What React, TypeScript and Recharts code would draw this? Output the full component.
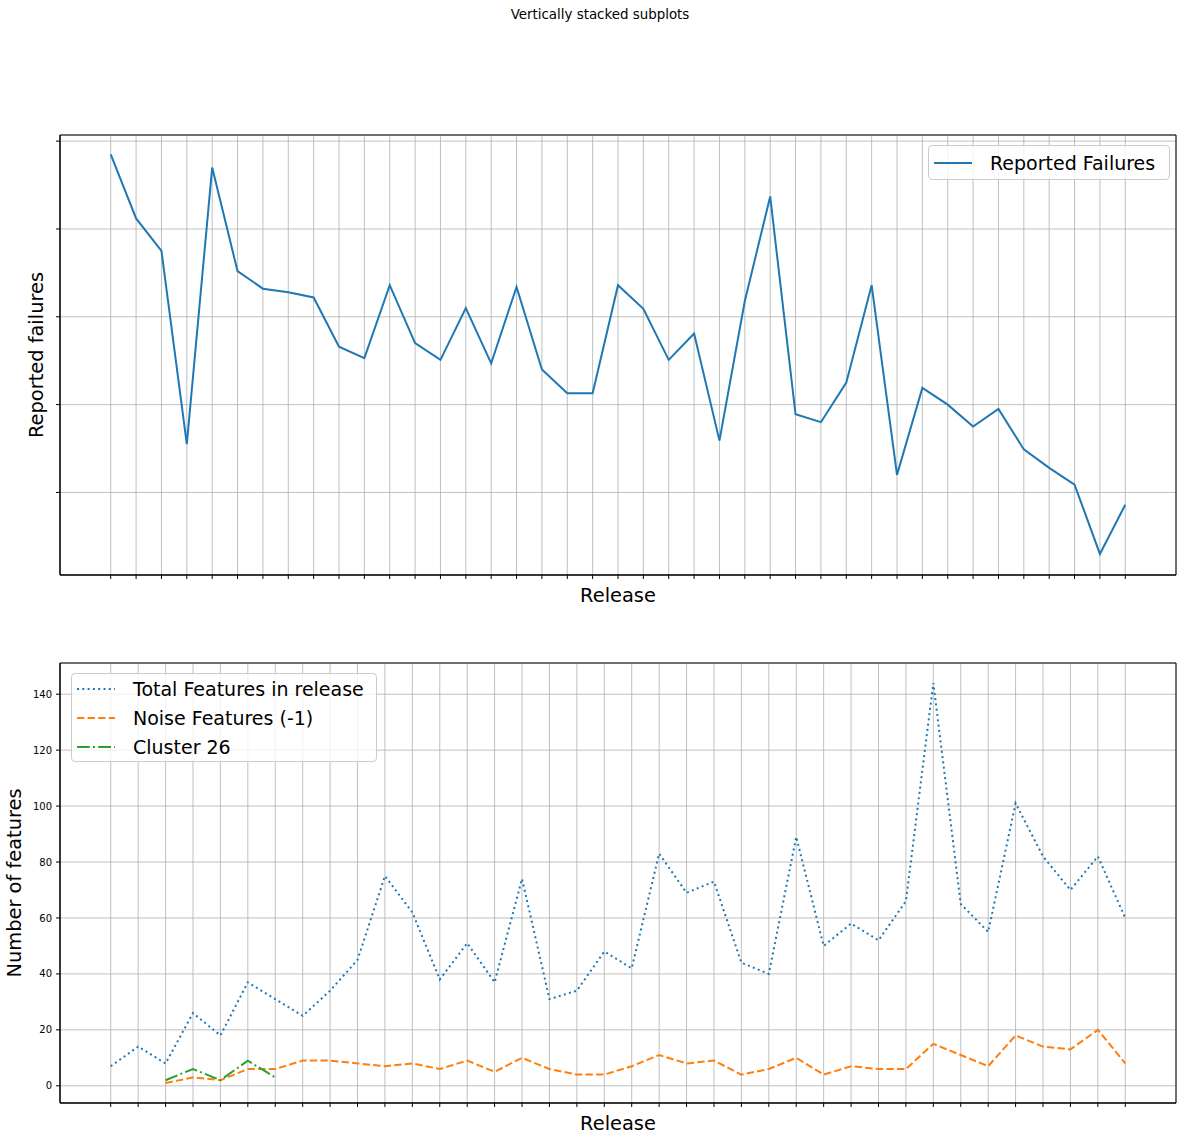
import { LineChart, Line, XAxis, YAxis, CartesianGrid, ReferenceArea, Label } from "recharts";

// reported failures per release (y units arbitrary, axis shows no labels)
const failures = [
  485, 412, 375, 155, 470, 352, 332, 328, 322, 266, 253, 336, 270, 251, 310, 247, 334, 240, 213, 213, 336,
  309, 251, 281, 159, 318, 437, 189, 180, 225, 336, 120, 219, 200, 175, 195, 149, 128, 109, 30, 86,
];
const failureTicks = [100, 200, 300, 400, 500];

const totalFeatures = [
  7, 14, 8, 26, 18, 37, 31, 25, 34, 45, 75, 62, 38, 51, 37, 74, 31, 34, 48, 42, 83, 69, 73, 44, 40, 89, 50,
  58, 52, 66, 144, 65, 55, 101, 82, 70, 82, 60,
];
const noiseFeatures = [
  null, null, 1, 3, 2, 6, 6, 9, 9, 8, 7, 8, 6, 9, 5, 10, 6, 4, 4, 7, 11, 8, 9, 4, 6, 10, 4, 7, 6, 6, 15, 11,
  7, 18, 14, 13, 20, 8,
];
const cluster26 = [null, null, 2, 6, 2, 9, 3];
const featureTicks = [0, 20, 40, 60, 80, 100, 120, 140];

const topData = failures.map((v, i) => ({ release: i, failures: v }));
const topReleases = topData.map((d) => d.release);
const bottomData = totalFeatures.map((v, i) => ({
  release: i,
  total: v,
  noise: noiseFeatures[i] ?? null,
  cluster: cluster26[i] ?? null,
}));
const bottomReleases = bottomData.map((d) => d.release);

const FONT = "'DejaVu Sans', Verdana, sans-serif";
const BLUE = "#1f77b4";
const ORANGE = "#ff7f0e";
const GREEN = "#2ca02c";
const GRID = "#b0b0b0";
const LW = 2;
const DOTTED = "2 3.3";
const DASHED = "7.4 3.2";
const DASHDOT = "12.8 3.2 2 3.2";

type Entry = { label: string; color: string; dash?: string };

function LegendBox({ entries, left, top, width }: { entries: Entry[]; left: number; top: number; width: number }) {
  return (
    <div
      style={{
        position: "absolute",
        left,
        top,
        width,
        padding: entries.length === 1 ? "2px 0" : 0,
        border: "1px solid #cccccc",
        borderRadius: 4,
        background: "rgba(255,255,255,0.8)",
        boxSizing: "border-box",
      }}
    >
      {entries.map((e) => (
        <div key={e.label} style={{ display: "flex", alignItems: "center", height: 29 }}>
          <svg width={38} height={10} style={{ marginLeft: 5, marginRight: 18 }}>
            <line x1={0} y1={5} x2={38} y2={5} stroke={e.color} strokeWidth={LW} strokeDasharray={e.dash} />
          </svg>
          <span style={{ fontSize: 19, color: "#000", whiteSpace: "nowrap" }}>{e.label}</span>
        </div>
      ))}
    </div>
  );
}

export default function App() {
  return (
    <div
      style={{
        position: "absolute",
        left: 0,
        top: 0,
        width: 1187,
        height: 1141,
        background: "#fff",
        fontFamily: FONT,
      }}
    >
      <div
        style={{
          position: "absolute",
          left: 0,
          top: 7,
          width: 1200,
          textAlign: "center",
          fontSize: 13.4,
          lineHeight: "16px",
        }}
      >
        Vertically stacked subplots
      </div>

      <div style={{ position: "absolute", left: 0, top: 0 }}>
        <LineChart width={1187} height={620} data={topData} margin={{ top: 135, right: 11, bottom: 0, left: 0 }}>
          <CartesianGrid stroke={GRID} strokeWidth={0.8} />
          <XAxis
            dataKey="release"
            type="number"
            domain={[-2, 42]}
            ticks={topReleases}
            interval={0}
            tickFormatter={() => ""}
            tickSize={4}
            height={45}
            axisLine={{ stroke: "#000" }}
            tickLine={{ stroke: "#000" }}
          >
            <Label value="Release" position="insideBottom" offset={18} style={{ fontSize: 19.4, fill: "#000", fontFamily: FONT }} />
          </XAxis>
          <YAxis
            type="number"
            domain={[6, 507]}
            ticks={failureTicks}
            tickFormatter={() => ""}
            tickSize={4}
            width={60}
            axisLine={{ stroke: "#000" }}
            tickLine={{ stroke: "#000" }}
          >
            <Label
              value="Reported failures"
              angle={-90}
              position="insideLeft"
              offset={36}
              style={{ fontSize: 19.4, fill: "#000", textAnchor: "middle", fontFamily: FONT }}
            />
          </YAxis>
          <ReferenceArea x1={-2} x2={42} y1={6} y2={507} fill="none" stroke="#000" strokeWidth={1} />
          <Line
            type="linear"
            dataKey="failures"
            stroke={BLUE}
            strokeWidth={LW}
            dot={false}
            activeDot={false}
            isAnimationActive={false}
          />
        </LineChart>
      </div>
      <LegendBox left={928} top={145} width={242} entries={[{ label: "Reported Failures", color: BLUE }]} />

      <div style={{ position: "absolute", left: 0, top: 620 }}>
        <LineChart width={1187} height={521} data={bottomData} margin={{ top: 43, right: 11, bottom: 0, left: 0 }}>
          <CartesianGrid stroke={GRID} strokeWidth={0.8} />
          <XAxis
            dataKey="release"
            type="number"
            domain={[-1.85, 38.85]}
            ticks={bottomReleases}
            interval={0}
            tickFormatter={() => ""}
            tickSize={4}
            height={38}
            axisLine={{ stroke: "#000" }}
            tickLine={{ stroke: "#000" }}
          >
            <Label value="Release" position="insideBottom" offset={11} style={{ fontSize: 19.4, fill: "#000", fontFamily: FONT }} />
          </XAxis>
          <YAxis
            type="number"
            domain={[-6.15, 151.15]}
            ticks={featureTicks}
            tickSize={4}
            tickMargin={4}
            width={60}
            tick={{ fontSize: 10, fill: "#000", fontFamily: FONT }}
            axisLine={{ stroke: "#000" }}
            tickLine={{ stroke: "#000" }}
          >
            <Label
              value="Number of features"
              angle={-90}
              position="insideLeft"
              offset={14}
              style={{ fontSize: 19.4, fill: "#000", textAnchor: "middle", fontFamily: FONT }}
            />
          </YAxis>
          <ReferenceArea x1={-1.85} x2={38.85} y1={-6.15} y2={151.15} fill="none" stroke="#000" strokeWidth={1} />
          <Line
            type="linear"
            dataKey="total"
            stroke={BLUE}
            strokeWidth={LW}
            strokeDasharray={DOTTED}
            dot={false}
            activeDot={false}
            isAnimationActive={false}
          />
          <Line
            type="linear"
            dataKey="noise"
            stroke={ORANGE}
            strokeWidth={LW}
            strokeDasharray={DASHED}
            dot={false}
            activeDot={false}
            isAnimationActive={false}
          />
          <Line
            type="linear"
            dataKey="cluster"
            stroke={GREEN}
            strokeWidth={LW}
            strokeDasharray={DASHDOT}
            dot={false}
            activeDot={false}
            isAnimationActive={false}
          />
        </LineChart>
      </div>
      <LegendBox
        left={71}
        top={673}
        width={306}
        entries={[
          { label: "Total Features in release", color: BLUE, dash: DOTTED },
          { label: "Noise Features (-1)", color: ORANGE, dash: DASHED },
          { label: "Cluster 26", color: GREEN, dash: DASHDOT },
        ]}
      />
    </div>
  );
}
